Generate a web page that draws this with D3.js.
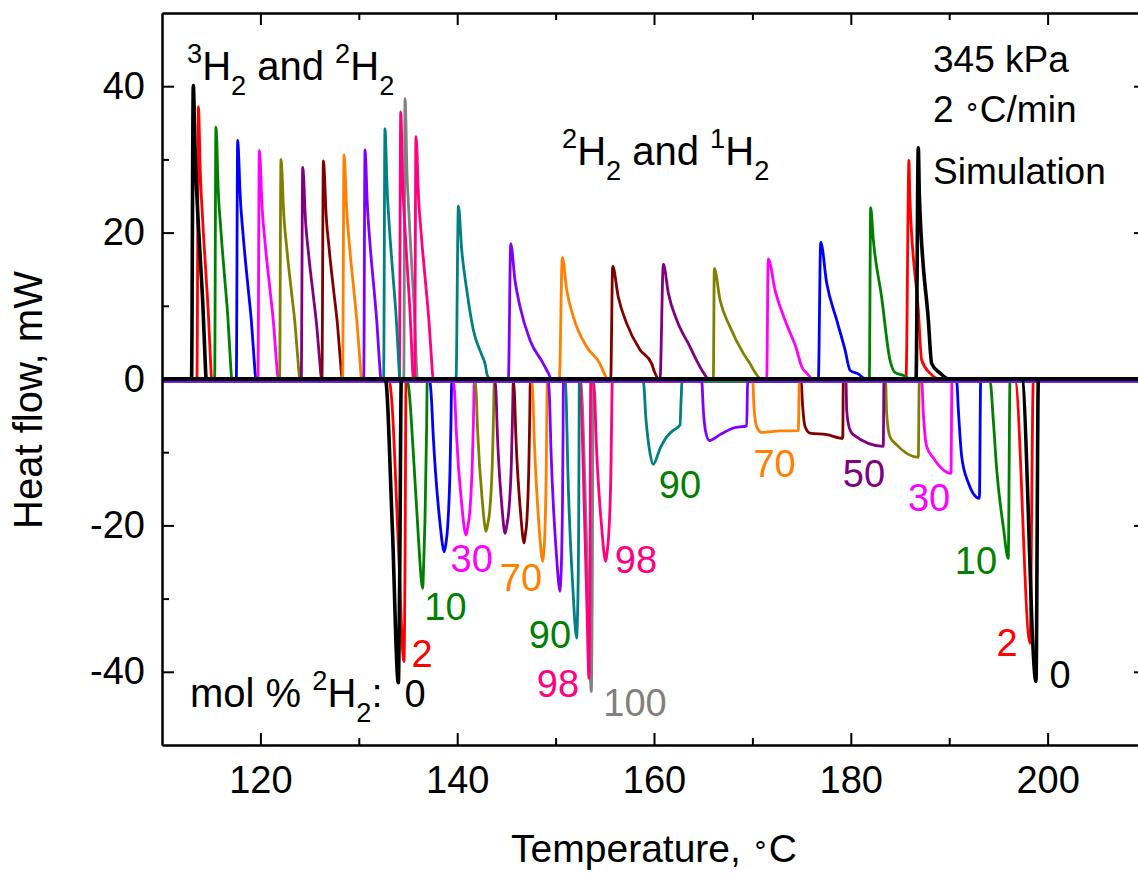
<!DOCTYPE html>
<html><head><meta charset="utf-8">
<script src="https://cdn.jsdelivr.net/npm/d3@7"></script>
<style>body{margin:0;background:#fff}svg{display:block}text{font-family:"Liberation Sans",Arial,sans-serif}</style>
</head><body>
<script>
// ---------- data ----------
const compositions = [0, 2, 10, 20, 30, 40, 50, 60, 70, 80, 90, 98, 100];
const seriesColors = ["#000000","#FF0000","#008000","#0000FF","#FF00FF","#808000","#800080","#800000","#FF8000","#8000FF","#008080","#FF0080","#808080"];
const xTicks = [120, 140, 160, 180, 200];
const xMinorTicks = [130, 150, 170, 190];
const yTicks = [-40, -20, 0, 20, 40];
const yMinorTicks = [-30, -10, 10, 30];

// exothermic traces, 3H2 / 2H2 system  [T (°C), heat flow (mW)]
const exoA = [
  [[113.0,0],[113.18,40.1],[113.26,37.3],[113.34,32.1],[113.58,24.1],[113.91,16.0],[114.17,9.6],[114.34,4.0],[114.5,0]],
  [[113.55,0],[113.7,37.2],[113.78,34.6],[113.86,29.8],[114.11,22.3],[114.44,14.9],[114.71,8.9],[114.89,3.7],[115.05,0]],
  [[115.35,0],[115.48,34.4],[115.58,32.0],[115.67,27.5],[115.97,20.6],[116.37,13.8],[116.70,8.3],[116.91,3.4],[117.10,0]],
  [[117.55,0],[117.69,32.6],[117.80,30.3],[117.91,26.1],[118.25,19.6],[118.71,13.0],[119.09,7.8],[119.33,3.3],[119.55,0]],
  [[119.75,0],[119.89,31.2],[120.01,29.0],[120.12,25.0],[120.47,18.7],[120.95,12.5],[121.34,7.5],[121.59,3.1],[121.82,0]],
  [[121.95,0],[122.09,30.0],[122.21,27.9],[122.32,24.0],[122.67,18.0],[123.15,12.0],[123.54,7.2],[123.79,3.0],[124.02,0]],
  [[124.15,0],[124.3,28.9],[124.42,26.9],[124.53,23.1],[124.88,17.3],[125.36,11.6],[125.75,6.9],[126.0,2.9],[126.23,0]],
  [[126.25,0],[126.4,29.8],[126.52,27.7],[126.63,23.8],[126.98,17.9],[127.46,11.9],[127.85,7.2],[128.10,3.0],[128.33,0]],
  [[128.35,0],[128.5,30.6],[128.61,28.5],[128.72,24.5],[129.04,18.4],[129.49,12.2],[129.84,7.3],[130.08,3.1],[130.29,0]],
  [[130.5,0],[130.63,31.3],[130.73,29.1],[130.83,25.0],[131.12,18.8],[131.53,12.5],[131.85,7.5],[132.06,3.1],[132.26,0]],
  [[132.52,0],[132.66,34.2],[132.75,31.8],[132.84,27.4],[133.12,20.5],[133.50,13.7],[133.81,8.2],[134.01,3.4],[134.19,0]],
  [[134.12,0],[134.26,36.5],[134.34,33.9],[134.41,29.2],[134.64,21.9],[134.96,14.6],[135.22,8.8],[135.39,3.7],[135.54,0]],
  [[134.57,0],[134.7,38.3],[134.78,35.6],[134.85,30.6],[135.08,23.0],[135.39,15.3],[135.64,9.2],[135.80,3.8],[135.95,0]]
];
// endothermic traces, 3H2 / 2H2 system
const endoA = [
  [[132.7,0],[133.4,-20],[134.02,-41.5],[134.15,-28],[134.32,0]],
  [[133.1,-0.3],[133.35,-3],[134.0,-22],[134.59,-38.6],[134.7,-25],[134.8,-0.3]],
  [[134.95,-0.3],[135.1,-1.5],[135.54,-10.1],[136.05,-21.5],[136.39,-27.9],[136.49,-28.6],[136.6,-25],[136.73,-19],[136.9,-6],[136.95,-0.3]],
  [[137.2,-0.3],[137.35,-2],[137.57,-7.9],[138.25,-19.7],[138.55,-23],[138.69,-23.6],[138.85,-22.5],[139.03,-20.2],[139.27,-12.4],[139.37,-5.6],[139.44,-0.3]],
  [[139.6,-0.3],[139.73,-1.7],[139.9,-7.0],[140.5,-17.7],[140.76,-20.7],[140.89,-21.3],[141.07,-20.2],[141.27,-18.3],[141.54,-11.3],[141.66,-5.1],[141.74,-0.3]],
  [[141.81,-0.3],[141.92,-1.7],[142.07,-6.9],[142.59,-17.3],[142.82,-20.2],[142.93,-20.8],[143.11,-19.8],[143.31,-17.9],[143.58,-11.0],[143.69,-5.0],[143.77,-0.3]],
  [[143.84,-0.3],[143.94,-1.7],[144.07,-7.0],[144.55,-17.5],[144.76,-20.5],[144.86,-21.1],[145.04,-20.0],[145.24,-18.1],[145.51,-11.2],[145.62,-5.1],[145.7,-0.3]],
  [[145.7,-0.3],[145.81,-1.8],[145.95,-7.4],[146.46,-18.6],[146.68,-21.7],[146.79,-22.4],[146.92,-21.3],[147.08,-19.3],[147.28,-11.9],[147.37,-5.4],[147.43,-0.3]],
  [[147.57,-0.3],[147.68,-2.0],[147.83,-8.2],[148.35,-20.7],[148.58,-24.2],[148.69,-24.9],[148.79,-23.7],[148.9,-21.4],[149.04,-13.2],[149.1,-6.0],[149.15,-0.3]],
  [[149.25,-0.3],[149.37,-2.3],[149.53,-9.6],[150.09,-24.1],[150.33,-28.1],[150.45,-29.0],[150.52,-27.6],[150.6,-24.9],[150.71,-15.4],[150.76,-7.0],[150.79,-0.3]],
  [[150.96,-0.3],[151.08,-2.8],[151.23,-11.7],[151.79,-29.4],[152.02,-34.3],[152.14,-35.4],[152.2,-33.6],[152.26,-30.4],[152.35,-18.8],[152.38,-8.5],[152.41,-0.3]],
  [[152.48,-0.3],[152.6,-3],[152.9,-17],[153.2,-32],[153.39,-40.9],[153.48,-30],[153.57,-0.3]],
  [[152.55,-0.3],[152.7,-3],[153.1,-20],[153.4,-34],[153.63,-42.7],[153.72,-30],[153.83,-0.3]]
];
// exothermic traces, 2H2 / 1H2 system (100 % is the same pure 2H2 trace)
const exoB = [
  [[186.63,0],[186.86,31.6],[186.97,24.9],[187.88,8.05],[188.22,2.1],[189.07,0.8],[190.0,0]],
  [[185.61,0],[185.91,29.9],[186.0,24.9],[186.86,9.4],[187.2,2.6],[188.05,0.8],[189.0,0]],
  [[181.88,0],[182.02,23.4],[182.29,19.0],[183.13,11.2],[183.98,2.6],[184.49,0.9],[185.33,0.5],[186.0,0]],
  [[176.7,0],[176.94,18.7],[177.55,13.1],[178.57,8.05],[179.41,4.0],[179.92,1.2],[180.76,0.7],[181.5,0]],
  [[171.45,0],[171.61,16.4],[172.3,12.15],[173.31,8.05],[174.5,4.0],[175.0,1.7],[175.51,0.8],[176.2,0]],
  [[166.03,0],[166.13,15.1],[166.71,10.8],[167.73,7.1],[169.08,3.5],[169.76,2.1],[170.27,0.9],[170.9,0]],
  [[160.61,0],[160.95,15.7],[161.46,11.7],[162.31,8.05],[163.66,4.4],[164.5,2.1],[165.01,0.9],[165.6,0]],
  [[155.6,0],[155.8,15.4],[156.37,11.2],[157.22,7.6],[158.57,4.0],[159.76,2.1],[160.1,0.8],[160.5,0]],
  [[150.38,0],[150.68,16.6],[151.13,12.15],[151.8,8.5],[153.15,4.4],[154.5,2.1],[154.92,0.8],[155.3,0]],
  [[145.2,0],[145.44,18.5],[145.87,13.5],[146.38,9.9],[147.4,5.3],[148.75,2.1],[149.26,0.8],[149.6,0]],
  [[139.88,0],[140.12,23.6],[140.46,17.6],[140.97,12.15],[141.64,6.7],[142.49,3.3],[142.83,2.1],[143.06,0.5],[143.4,0]],
  [[135.67,0],[135.81,33.1],[135.92,30.8],[136.02,26.5],[136.34,19.9],[136.78,13.2],[137.13,7.9],[137.36,3.3],[137.57,0]],
  null
];
// endothermic traces, 2H2 / 1H2 system
const endoB = [
  [[197.37,0],[198.82,-41.3],[199.06,0]],
  [[196.69,-0.3],[198.21,-36.1],[198.55,-0.3]],
  [[194.15,-0.3],[194.48,-5.6],[194.83,-12.4],[195.5,-20.2],[196.0,-24.5],[196.18,-0.3]],
  [[190.76,-0.3],[190.93,-4.2],[191.27,-10.6],[191.95,-14.2],[193.07,-16.3],[193.2,-0.3]],
  [[187.2,-0.3],[187.37,-4.7],[187.71,-9.2],[188.39,-10.8],[190.18,-12.9],[190.28,-0.3]],
  [[183.54,-0.3],[183.64,-4.7],[183.98,-7.9],[184.66,-9.0],[186.86,-10.7],[186.96,-0.3]],
  [[179.51,-0.3],[179.58,-4.2],[179.85,-6.7],[180.25,-7.6],[183.3,-9.2],[183.37,-0.3]],
  [[174.94,-0.3],[175.11,-3.8],[175.35,-6.5],[175.85,-7.4],[177.55,-7.6],[179.18,-8.1],[179.24,-0.3]],
  [[170.03,-0.3],[170.16,-3.8],[170.43,-6.5],[170.94,-7.3],[172.8,-7.1],[174.67,-7.05],[174.77,-0.3]],
  [[164.85,-0.3],[165.01,-4.2],[165.25,-7.2],[165.62,-8.4],[166.71,-7.6],[168.07,-6.7],[169.42,-6.4],[169.52,-0.3]],
  [[158.91,-0.3],[159.19,-5.6],[159.59,-10.1],[159.93,-11.65],[160.61,-9.5],[161.29,-7.9],[161.97,-7.0],[162.64,-6.3],[162.75,-3],[162.85,-0.3]],
  [[153.83,-0.3],[153.96,-2.0],[154.12,-8.2],[154.71,-20.7],[154.96,-24.2],[155.09,-24.9],[155.23,-23.7],[155.39,-21.4],[155.61,-13.2],[155.69,-6.0],[155.76,-0.3]],
  null
];
// composition labels: text, colour, anchor [T, mW]
const labelTexts  = ["2","0","10","30","70","90","98","100","98","90","70","50","30","10","2","0"];
const labelColors = ["#FF0000","#000000","#008000","#FF00FF","#FF8000","#008000","#FF0080","#808080","#FF0080","#008000","#FF8000","#800080","#FF00FF","#008000","#FF0000","#000000"];
const labelT = [136.42,135.71,138.81,141.47,146.48,149.43,150.24,158.07,158.17,162.64,172.26,181.34,187.95,192.72,195.87,201.26];
const labelV = [-39.3,-44.8,-32.9,-26.3,-29.0,-36.7,-43.5,-46.0,-26.5,-16.2,-13.4,-14.7,-18.1,-26.6,-37.8,-42.2];

// ---------- chart ----------
const W = 1138, H = 874;
const svg = d3.select("body").append("svg").attr("width", W).attr("height", H);
const x = d3.scaleLinear().domain([110, 210]).range([162, 1146]);
const y = d3.scaleLinear().domain([-50, 50]).range([745, 13]);

const line = d3.line().x(d => x(d[0])).y(d => y(d[1])).curve(d3.curveMonotoneX);
function extend(pts) {
  const [d0, d1] = x.domain();
  return [[d0, pts[0][1]], ...pts, [d1, pts[pts.length - 1][1]]];
}

const plot = svg.append("g");
const colouredOrder = [12, 11, 1, 2, 3, 4, 5, 6, 7, 8, 10, 9];
[endoA, endoB, exoA, exoB].forEach(set => {
  colouredOrder.forEach(i => {
    if (!set[i]) return;
    plot.append("path").attr("d", line(extend(set[i]))).attr("fill", "none")
      .attr("stroke", seriesColors[i]).attr("stroke-width", 2.8).attr("stroke-linejoin", "round");
  });
});
[endoA, endoB, exoA, exoB].forEach(set => {
  plot.append("path").attr("d", line(extend(set[0]))).attr("fill", "none")
    .attr("stroke", seriesColors[0]).attr("stroke-width", 3.6).attr("stroke-linejoin", "round");
});

// axes
function styleAxis(g, fs) {
  g.select(".domain").attr("stroke", "#000").attr("stroke-width", 2);
  g.selectAll(".tick line").attr("stroke", "#000").attr("stroke-width", 2);
  g.selectAll(".tick text").attr("font-size", fs).attr("fill", "#000")
    .attr("font-family", '"Liberation Sans", Arial, sans-serif');
}
const yb = y(-50), yt = y(50), xl = x(110), xr = x(210);
svg.append("g").attr("transform", `translate(0,${yb})`)
  .call(d3.axisBottom(x).tickValues(xTicks).tickSize(-12).tickSizeOuter(0).tickPadding(21).tickFormat(d3.format("d")))
  .call(g => styleAxis(g, 38));
svg.append("g").attr("transform", `translate(0,${yb})`)
  .call(d3.axisBottom(x).tickValues(xMinorTicks).tickSize(-7).tickSizeOuter(0).tickFormat(""))
  .call(g => styleAxis(g, 38));
svg.append("g").attr("transform", `translate(0,${yt})`)
  .call(d3.axisTop(x).tickValues(xTicks).tickSize(-12).tickSizeOuter(0).tickFormat(""))
  .call(g => styleAxis(g, 38));
svg.append("g").attr("transform", `translate(0,${yt})`)
  .call(d3.axisTop(x).tickValues(xMinorTicks).tickSize(-7).tickSizeOuter(0).tickFormat(""))
  .call(g => styleAxis(g, 38));
svg.append("g").attr("transform", `translate(${xl},0)`)
  .call(d3.axisLeft(y).tickValues(yTicks).tickSize(-12).tickSizeOuter(0).tickPadding(17).tickFormat(d => String(d)))
  .call(g => styleAxis(g, 38));
svg.append("g").attr("transform", `translate(${xl},0)`)
  .call(d3.axisLeft(y).tickValues(yMinorTicks).tickSize(-7).tickSizeOuter(0).tickFormat(""))
  .call(g => styleAxis(g, 38));
svg.append("g").attr("transform", `translate(${xr},0)`)
  .call(d3.axisRight(y).tickValues(yTicks).tickSize(-12).tickSizeOuter(0).tickFormat(""))
  .call(g => styleAxis(g, 38));
svg.append("g").attr("transform", `translate(${xr},0)`)
  .call(d3.axisRight(y).tickValues(yMinorTicks).tickSize(-7).tickSizeOuter(0).tickFormat(""))
  .call(g => styleAxis(g, 38));

// rich text helper
function rich(x0, y0, parts, size, color, anchor) {
  const t = svg.append("text").attr("x", x0).attr("y", y0).attr("font-size", size).attr("fill", color || "#000");
  if (anchor) t.attr("text-anchor", anchor);
  let cur = 0;
  parts.forEach(([s, k]) => {
    const target = k === "sup" ? -0.42 * size : k === "sub" ? 0.38 * size : k === "ring" ? -0.2 * size : 0;
    const fs = k === "ring" ? size * 0.7 : k ? size * 0.68 : size;
    t.append("tspan").attr("dy", target - cur).attr("font-size", fs).text(s);
    cur = target;
  });
  return t;
}

// axis titles
rich(654, 862, [["Temperature, "], ["\u2218", "ring"], ["C"]], 39, "#000", "middle");
svg.append("text").attr("transform", "translate(42,400) rotate(-90)").attr("text-anchor", "middle")
  .attr("font-size", 40).text("Heat flow, mW");

rich(187, 80, [["3","sup"],["H"],["2","sub"],[" and "],["2","sup"],["H"],["2","sub"]], 40);
rich(562, 165, [["2","sup"],["H"],["2","sub"],[" and "],["1","sup"],["H"],["2","sub"]], 40);
rich(190, 707, [["mol % "],["2","sup"],["H"],["2","sub"],[":"]], 40);
svg.append("text").attr("x", 933).attr("y", 72).attr("font-size", 37).text("345 kPa");
rich(933, 122, [["2 "], ["\u2218", "ring"], ["C/min"]], 37);
svg.append("text").attr("x", 933).attr("y", 184).attr("font-size", 37).text("Simulation");

// composition labels
labelTexts.forEach((t, i) => {
  svg.append("text").attr("x", x(labelT[i])).attr("y", y(labelV[i])).attr("text-anchor", "middle")
    .attr("font-size", 38).attr("fill", labelColors[i]).text(t);
});
</script>
</body></html>
